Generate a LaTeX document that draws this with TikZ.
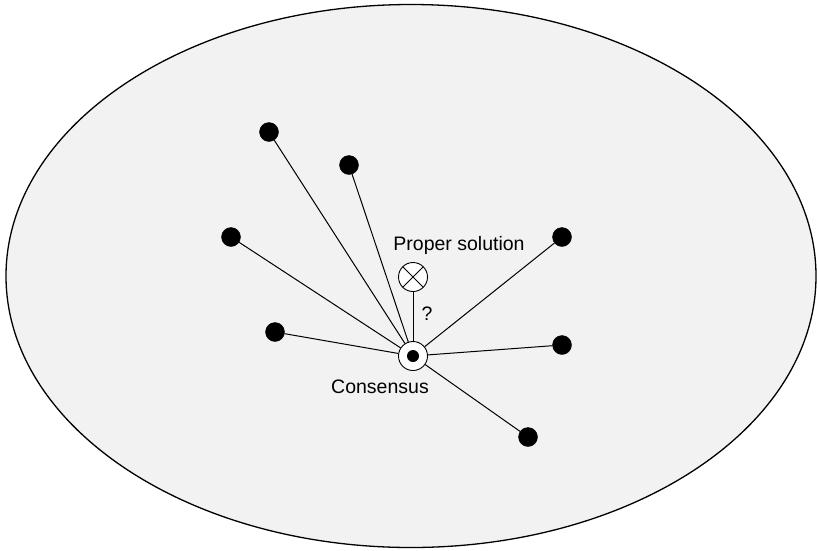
\documentclass[tikz,border=0pt]{standalone}
\usepackage{fontspec}
\setmainfont{Liberation Sans}
\begin{document}
\begin{tikzpicture}[x=1pt,y=-1pt,
  dot/.style={circle,fill=black,draw=black,inner sep=0pt,minimum size=19pt},
  hub/.style={circle,fill=white,draw=black,line width=0.9pt,inner sep=0pt,minimum size=29pt},
  spoke/.style={draw=black,line width=1pt},
  lbl/.style={font=\fontsize{19.5}{22}\selectfont,inner sep=0pt}]
\useasboundingbox (0,0) rectangle (817,550);
% solution space
\draw[fill={rgb,255:red,242;green,242;blue,242},line width=1.3pt] (411,276) ellipse [x radius=405, y radius=271.5];
% consensus and candidate solution
\node[hub] (cons) at (413,356) {};
\node[hub,path picture={\draw[line width=0.9pt] (path picture bounding box.south west) -- (path picture bounding box.north east) (path picture bounding box.north west) -- (path picture bounding box.south east);}] (prop) at (413,277) {};
\fill[black] (cons.center) circle[radius=6];
% individual opinions
\node[dot] (d1) at (269,132) {};
\node[dot] (d2) at (349,165) {};
\node[dot] (d3) at (231,237) {};
\node[dot] (d4) at (562,237) {};
\node[dot] (d5) at (275,332) {};
\node[dot] (d6) at (562,345) {};
\node[dot] (d7) at (528,437) {};
\foreach \d in {d1,d2,d3,d4,d5,d6,d7} \draw[spoke] (\d) -- (cons);
\draw[spoke] (prop) -- (cons);
% labels
\node[lbl] (tprop) at (459,245) {Proper solution};
\node[lbl] (tq) at (427,314) {?};
\node[lbl] (tcons) at (380,387) {Consensus};
\end{tikzpicture}
\end{document}
